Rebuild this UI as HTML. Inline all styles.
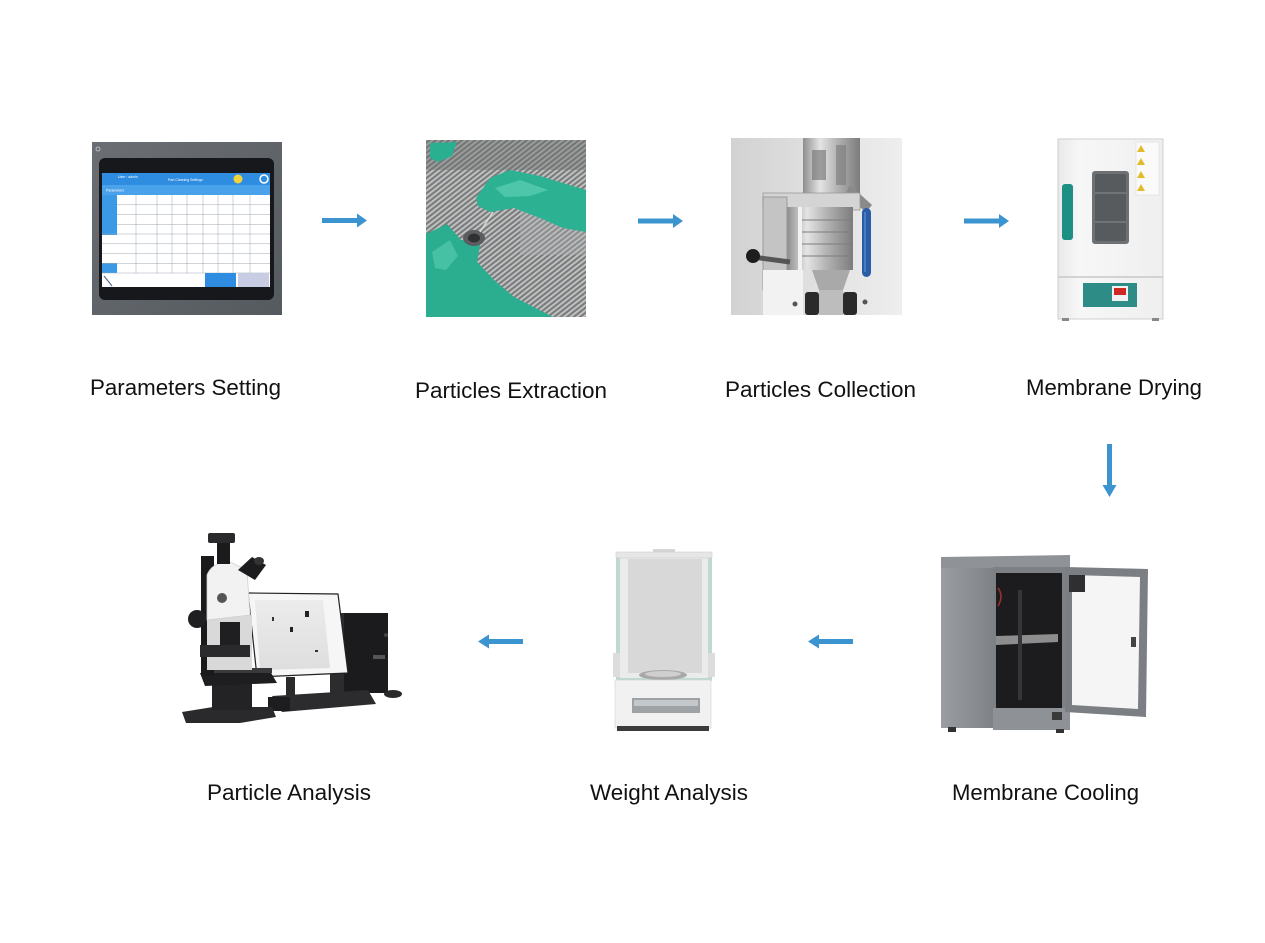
<!DOCTYPE html>
<html><head><meta charset="utf-8">
<style>
html,body{margin:0;padding:0;background:#ffffff;}
svg{display:block;}
.lbl{font-family:"Liberation Sans",Arial,sans-serif;font-size:22px;fill:#111;}
.ui{font-family:"Liberation Sans",Arial,sans-serif;font-size:3.5px;fill:#fff;}
</style></head><body>
<svg width="1265" height="943" viewBox="0 0 1265 943" xmlns="http://www.w3.org/2000/svg">
<defs>
  <linearGradient id="tabFrame" x1="0" y1="0" x2="1" y2="1">
    <stop offset="0" stop-color="#6b6f74"/><stop offset="1" stop-color="#555a5f"/>
  </linearGradient>
  <pattern id="grill" width="4" height="4" patternUnits="userSpaceOnUse" patternTransform="rotate(-38)">
    <rect width="4" height="4" fill="#7a7c7d"/>
    <rect width="4" height="1.8" fill="#c4c6c6"/>
  </pattern>
  <linearGradient id="collBg" x1="0" y1="0" x2="1" y2="0">
    <stop offset="0" stop-color="#d2d2d2"/><stop offset="0.5" stop-color="#e0e0e0"/><stop offset="1" stop-color="#eeeeee"/>
  </linearGradient>
  <linearGradient id="metal" x1="0" y1="0" x2="1" y2="0">
    <stop offset="0" stop-color="#8e8e8e"/><stop offset="0.3" stop-color="#e4e4e4"/><stop offset="0.6" stop-color="#b3b3b3"/><stop offset="1" stop-color="#7c7c7c"/>
  </linearGradient>
  <linearGradient id="cabSide" x1="0" y1="0" x2="1" y2="0">
    <stop offset="0" stop-color="#9a9da2"/><stop offset="1" stop-color="#7f8287"/>
  </linearGradient>
  <linearGradient id="ovenBody" x1="0" y1="0" x2="1" y2="0">
    <stop offset="0" stop-color="#e9e9e9"/><stop offset="0.2" stop-color="#f7f7f7"/><stop offset="1" stop-color="#efefef"/>
  </linearGradient>
  <linearGradient id="screenG" x1="0" y1="0" x2="0" y2="1">
    <stop offset="0" stop-color="#ececec"/><stop offset="1" stop-color="#dedede"/>
  </linearGradient>
</defs>

<rect width="1265" height="943" fill="#ffffff"/>

<!-- ============ 1. Tablet (Parameters Setting) ============ -->
<rect x="92" y="142" width="190" height="173" fill="url(#tabFrame)"/>
<circle cx="98" cy="149" r="2" fill="none" stroke="#ccc" stroke-width="0.8"/>
<rect x="99" y="158" width="175" height="142" rx="6" fill="#16181b"/>
<rect x="102" y="173" width="168" height="114" fill="#ffffff"/>
<rect x="102" y="173" width="168" height="12" fill="#2e8de0"/>
<rect x="102" y="185" width="168" height="10" fill="#49a2ea"/>
<text class="ui" x="118" y="178">User : admin</text>
<text class="ui" x="168" y="181">Part Cleaning Settings</text>
<circle cx="238" cy="179" r="4.5" fill="#f2d13a"/>
<circle cx="264" cy="179" r="4" fill="none" stroke="#fff" stroke-width="1.5"/>
<text class="ui" x="106" y="191.5">Parameters</text>
<rect x="102" y="195" width="15" height="40" fill="#3a9ae6"/>
<rect x="102" y="263" width="15" height="10" fill="#3a9ae6"/>
<g stroke="#9fa8b3" stroke-width="0.5">
  <line x1="117" y1="204.8" x2="270" y2="204.8"/>
  <line x1="117" y1="214.5" x2="270" y2="214.5"/>
  <line x1="117" y1="224.3" x2="270" y2="224.3"/>
  <line x1="102" y1="234" x2="270" y2="234"/>
  <line x1="102" y1="243.8" x2="270" y2="243.8"/>
  <line x1="102" y1="253.5" x2="270" y2="253.5"/>
  <line x1="102" y1="263.3" x2="270" y2="263.3"/>
  <line x1="102" y1="273" x2="270" y2="273"/>
  <line x1="136" y1="195" x2="136" y2="273"/>
  <line x1="157" y1="195" x2="157" y2="273"/>
  <line x1="172" y1="195" x2="172" y2="273"/>
  <line x1="187" y1="195" x2="187" y2="273"/>
  <line x1="203" y1="195" x2="203" y2="273"/>
  <line x1="218" y1="195" x2="218" y2="273"/>
  <line x1="233" y1="195" x2="233" y2="273"/>
  <line x1="250" y1="195" x2="250" y2="273"/>
</g>
<rect x="205" y="273" width="31" height="14" fill="#2e8de0"/>
<rect x="238" y="273" width="31" height="14" fill="#c9cde3"/>
<line x1="104" y1="276" x2="112" y2="286" stroke="#5a6f8e" stroke-width="1.2"/>

<!-- ============ 2. Gloves (Particles Extraction) ============ -->
<rect x="426" y="140" width="160" height="177" fill="url(#grill)"/>
<rect x="426" y="140" width="160" height="30" fill="#6f7172" opacity="0.45"/>
<rect x="520" y="195" width="66" height="60" fill="#b0b2b3" opacity="0.35"/>
<path d="M430 143 L457 142 L452 156 L438 162 L430 158 Z" fill="#2aaf90"/>
<path d="M476 198 L490 178 L510 170 L540 176 L566 184 L586 190 L586 232 L563 228 L540 218 L514 208 L490 212 L478 206 Z" fill="#2cb293"/>
<path d="M495 188 L520 180 L548 190 L530 196 L505 197 Z" fill="#5ccfb3" opacity="0.7"/>
<path d="M426 234 L447 224 L461 240 L481 240 L477 262 L494 280 L514 297 L553 317 L426 317 Z" fill="#2aae8f"/>
<path d="M432 252 L450 240 L458 256 L446 270 L435 268 Z" fill="#5acdb1" opacity="0.6"/>
<ellipse cx="474" cy="238" rx="11" ry="8" fill="#5b5e60"/>
<ellipse cx="474" cy="238" rx="6" ry="4.5" fill="#2f3133"/>
<line x1="480" y1="232" x2="493" y2="212" stroke="#d9d9d9" stroke-width="1.5"/>

<!-- ============ 3. Collection device ============ -->
<rect x="731" y="138" width="171" height="177" fill="url(#collBg)"/>
<rect x="803" y="138" width="57" height="60" fill="url(#metal)"/>
<rect x="812" y="150" width="14" height="30" fill="#6d6d6d" opacity="0.6"/>
<rect x="836" y="145" width="10" height="40" fill="#7a7a7a" opacity="0.6"/>
<path d="M850 185 L872 205 L866 212 L845 195 Z" fill="#8a8a8a"/>
<rect x="763" y="193" width="97" height="17" fill="#d4d4d4" stroke="#999" stroke-width="0.8"/>
<rect x="763" y="197" width="24" height="93" fill="#c4c4c4" stroke="#8e8e8e" stroke-width="0.8"/>
<rect x="787" y="207" width="66" height="63" fill="url(#metal)"/>
<g stroke="#7d7d7d" stroke-width="1">
  <line x1="800" y1="220" x2="853" y2="220"/>
  <line x1="800" y1="232" x2="853" y2="232"/>
  <line x1="800" y1="244" x2="853" y2="244"/>
  <line x1="800" y1="256" x2="853" y2="256"/>
</g>
<rect x="798" y="207" width="4" height="63" fill="#f2f2f2"/>
<line x1="753" y1="257" x2="790" y2="262" stroke="#555" stroke-width="5"/>
<circle cx="753" cy="256" r="7" fill="#1e1e1e"/>
<rect x="763" y="270" width="40" height="45" fill="#f2f2f2"/>
<path d="M812 270 L850 270 L843 290 L819 290 Z" fill="#a9a9a9"/>
<rect x="819" y="290" width="24" height="25" fill="#bdbdbd"/>
<rect x="805" y="292" width="14" height="23" rx="3" fill="#2a2a2a"/>
<rect x="843" y="292" width="14" height="23" rx="3" fill="#2a2a2a"/>
<circle cx="865" cy="302" r="2.5" fill="#555"/>
<circle cx="795" cy="304" r="2.5" fill="#555"/>
<rect x="862" y="208" width="9" height="69" rx="4.5" fill="#2b5da6"/>
<rect x="864" y="212" width="2" height="60" fill="#4a7cc4"/>

<!-- ============ 4. Oven ============ -->
<rect x="1058" y="139" width="105" height="180" fill="url(#ovenBody)" stroke="#cfcfcf" stroke-width="1"/>
<line x1="1058" y1="277" x2="1163" y2="277" stroke="#c8c8c8" stroke-width="1.5"/>
<rect x="1092" y="171" width="37" height="73" rx="3" fill="#6e7174"/>
<rect x="1095" y="174" width="31" height="67" rx="2" fill="#585b5e"/>
<line x1="1095" y1="193" x2="1126" y2="193" stroke="#8a8d90" stroke-width="1"/>
<line x1="1095" y1="222" x2="1126" y2="222" stroke="#8a8d90" stroke-width="1"/>
<rect x="1062" y="184" width="11" height="56" rx="3" fill="#1e8f85"/>
<rect x="1136" y="142" width="23" height="53" fill="#fafafa" stroke="#dcdcdc" stroke-width="0.6"/>
<g fill="#e2bb2b">
  <polygon points="1141,145 1145,152 1137,152"/>
  <polygon points="1141,158 1145,165 1137,165"/>
  <polygon points="1141,171 1145,178 1137,178"/>
  <polygon points="1141,184 1145,191 1137,191"/>
</g>
<rect x="1083" y="283" width="54" height="24" fill="#2d8d86"/>
<rect x="1112" y="286" width="16" height="15" fill="#f0f0f0"/>
<rect x="1114" y="288" width="12" height="7" fill="#cf2626"/>
<rect x="1062" y="318" width="7" height="3" fill="#888"/>
<rect x="1152" y="318" width="7" height="3" fill="#888"/>

<!-- ============ 5. Cabinet (Membrane Cooling) ============ -->
<polygon points="941,557 1070,555 1070,568 941,569" fill="#8f9297"/>
<rect x="941" y="568" width="52" height="160" fill="url(#cabSide)"/>
<rect x="993" y="567" width="77" height="163" fill="#7d8085"/>
<rect x="996" y="573" width="66" height="135" fill="#1c1c1e"/>
<polygon points="996,636 1058,634 1058,642 996,645" fill="#8d8d8d"/>
<rect x="1018" y="590" width="4" height="110" fill="#363638"/>
<path d="M998 588 Q1004 596 998 606" stroke="#a03030" stroke-width="1.5" fill="none"/>
<rect x="993" y="708" width="77" height="22" fill="#8e9196"/>
<rect x="1052" y="712" width="10" height="8" fill="#3a3a3a"/>
<rect x="948" y="727" width="8" height="5" fill="#333"/>
<rect x="1056" y="729" width="8" height="4" fill="#333"/>
<polygon points="1065,567 1148,569 1146,717 1065,712" fill="#7b7e83"/>
<polygon points="1072,575 1140,577 1138,709 1072,705" fill="#f5f5f5"/>
<rect x="1069" y="575" width="16" height="17" fill="#2f2f31"/>
<rect x="1131" y="637" width="5" height="10" fill="#444"/>

<!-- ============ 6. Balance (Weight Analysis) ============ -->
<rect x="653" y="549" width="22" height="6" fill="#d6d6d6"/>
<rect x="616" y="553" width="96" height="128" fill="#bfd9d0"/>
<rect x="620" y="557" width="88" height="121" fill="#e9ecea"/>
<rect x="628" y="559" width="74" height="114" fill="#d8d8d8"/>
<rect x="616" y="552" width="96" height="6" fill="#e6e6e6" stroke="#c8c8c8" stroke-width="0.5"/>
<rect x="613" y="653" width="7" height="24" fill="#dcdcdc"/>
<rect x="708" y="653" width="7" height="24" fill="#dcdcdc"/>
<ellipse cx="663" cy="675" rx="24" ry="5" fill="#a9a9a9"/>
<ellipse cx="663" cy="674" rx="18" ry="3" fill="#cfcfcf"/>
<rect x="615" y="680" width="96" height="48" fill="#f1f1f1" stroke="#d2d2d2" stroke-width="0.6"/>
<rect x="632" y="698" width="68" height="15" fill="#9fa2a5"/>
<rect x="634" y="700" width="64" height="6" fill="#c5c8cb"/>
<rect x="617" y="726" width="92" height="5" fill="#3b3b3b"/>

<!-- ============ 7. Microscope (Particle Analysis) ============ -->
<rect x="330" y="613" width="58" height="80" fill="#1b1b1d"/>
<rect x="330" y="613" width="14" height="80" fill="#2c2c2e"/>
<rect x="373" y="655" width="12" height="4" fill="#555"/>
<circle cx="386" cy="635" r="2" fill="#444"/>
<polygon points="248,593 338,594 348,673 257,677" fill="#f6f6f6" stroke="#222" stroke-width="1.2"/>
<polygon points="255,600 323,600 330,668 260,670" fill="url(#screenG)"/>
<rect x="272" y="617" width="2" height="4" fill="#333"/>
<rect x="290" y="627" width="3" height="5" fill="#222"/>
<rect x="305" y="611" width="4" height="6" fill="#222"/>
<rect x="315" y="650" width="3" height="2" fill="#333"/>
<rect x="286" y="677" width="9" height="20" fill="#2a2a2a"/>
<polygon points="272,696 368,690 376,704 282,712" fill="#2c2c2e"/>
<rect x="268" y="697" width="22" height="14" fill="#1d1d1f"/>
<ellipse cx="393" cy="694" rx="9" ry="4" fill="#2a2a2a"/>
<polygon points="182,712 213,707 272,707 276,717 240,723 186,723" fill="#2a2a2c"/>
<rect x="212" y="684" width="40" height="26" fill="#232325"/>
<polygon points="200,673 270,671 277,683 205,686" fill="#1e1e20"/>
<rect x="202" y="668" width="70" height="5" fill="#3a3a3c"/>
<rect x="201" y="556" width="13" height="120" fill="#1a1a1c"/>
<rect x="207" y="615" width="45" height="55" fill="#d9d9d9"/>
<rect x="220" y="622" width="20" height="33" fill="#1f1f21"/>
<rect x="200" y="645" width="50" height="12" fill="#2a2a2c"/>
<circle cx="197" cy="619" r="9" fill="#1f1f21"/>
<path d="M207 575 Q212 562 230 562 L247 570 L250 615 L207 620 Z" fill="#f2f2f2" stroke="#cfcfcf" stroke-width="0.8"/>
<circle cx="222" cy="598" r="5" fill="#555"/>
<rect x="217" y="542" width="13" height="22" fill="#1b1b1d"/>
<rect x="208" y="533" width="27" height="10" rx="2" fill="#2a2a2c"/>
<polygon points="238,570 252,557 266,565 255,580" fill="#1c1c1e"/>
<ellipse cx="259" cy="561" rx="5" ry="4" fill="#333"/>

<!-- ============ Arrows ============ -->
<g fill="#3b93d0">
  <rect x="322" y="218" width="36" height="5"/>
  <polygon points="357,213.5 367,220.5 357,227.5"/>
  <rect x="638" y="218.5" width="36" height="5"/>
  <polygon points="673,214 683,221 673,228"/>
  <rect x="964" y="218.5" width="36" height="5"/>
  <polygon points="999,214 1009,221 999,228"/>
  <rect x="1107" y="444" width="5" height="42" />
  <polygon points="1102.5,485 1116.5,485 1109.5,497"/>
  <rect x="818" y="639" width="35" height="5"/>
  <polygon points="819,634.5 819,648.5 808,641.5"/>
  <rect x="488" y="639" width="35" height="5"/>
  <polygon points="489,634.5 489,648.5 478,641.5"/>
</g>

<!-- ============ Labels ============ -->
<text class="lbl" x="90" y="395" textLength="191" lengthAdjust="spacingAndGlyphs">Parameters Setting</text>
<text class="lbl" x="415" y="398" textLength="192" lengthAdjust="spacingAndGlyphs">Particles Extraction</text>
<text class="lbl" x="725" y="397" textLength="191" lengthAdjust="spacingAndGlyphs">Particles Collection</text>
<text class="lbl" x="1026" y="395" textLength="176" lengthAdjust="spacingAndGlyphs">Membrane Drying</text>
<text class="lbl" x="207" y="800" textLength="164" lengthAdjust="spacingAndGlyphs">Particle Analysis</text>
<text class="lbl" x="590" y="800" textLength="158" lengthAdjust="spacingAndGlyphs">Weight Analysis</text>
<text class="lbl" x="952" y="800" textLength="187" lengthAdjust="spacingAndGlyphs">Membrane Cooling</text>
</svg>
</body></html>
